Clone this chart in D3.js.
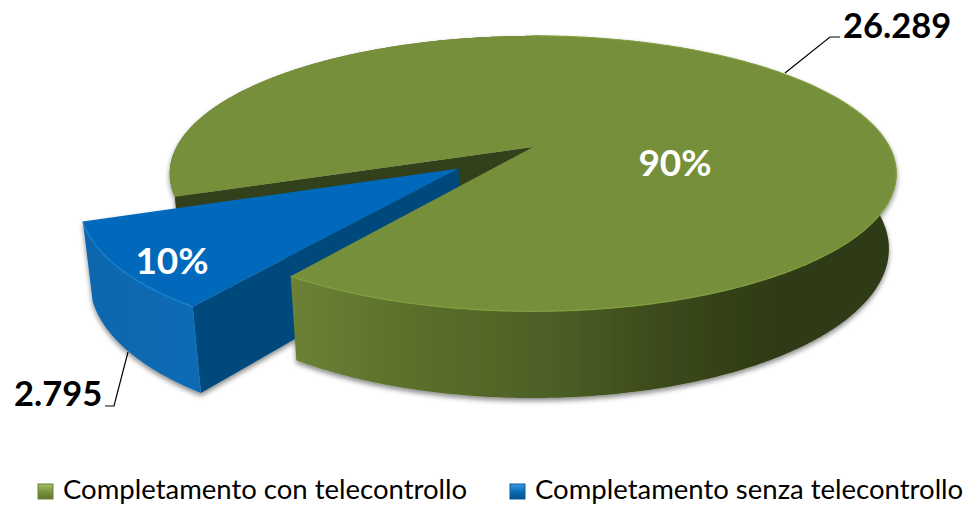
<!DOCTYPE html>
<html>
<head>
<meta charset="utf-8">
<script src="https://cdn.jsdelivr.net/npm/d3@7"></script>
<style>
  html, body { margin: 0; padding: 0; background: #fff; }
  svg { display: block; font-family: Lato, "Open Sans", sans-serif; }
  .value-label { font-weight: 700; font-size: 34.5px; fill: #000; }
  .pct-label { font-weight: 700; font-size: 37px; fill: #fff; text-anchor: middle; }
  .legend-label { font-size: 27.5px; fill: #000; }
  .leader { fill: none; stroke: #000; stroke-width: 1.2; }
</style>
</head>
<body>
<div id="chart"></div>
<script>
const categories = ["Completamento con telecontrollo", "Completamento senza telecontrollo"];
const values = [26289, 2795];
const valueLabels = ["26.289", "2.795"];
const percentLabels = ["90%", "10%"];

const width = 966, height = 505;

// Tilted disc: plane coords run -1..1, k is the perspective, depth the wall height
const cfg = {
  cx: 533, cy: 147, rx: 356.5, ry: 132.6, k: 0.193,
  depth: 75, m: 0.02,
  firstAngle: 249.5 * Math.PI / 180,
  explode: 0.256
};

const svg = d3.select("#chart").append("svg")
    .attr("width", width)
    .attr("height", height);

const defs = svg.append("defs");

function addGradient(id, stops, vertical) {
  const g = defs.append("linearGradient").attr("id", id)
      .attr("x1", 0).attr("y1", 0)
      .attr("x2", vertical ? 0 : 1).attr("y2", vertical ? 1 : 0);
  stops.forEach(s => g.append("stop").attr("offset", s[0]).attr("stop-color", s[1]));
}

addGradient("greenWall", [[0, "#6c8136"], [0.18, "#5c712c"], [0.41, "#4e6126"], [0.64, "#39471a"], [0.8, "#2f3b15"], [1, "#2f3b15"]]);
addGradient("blueWall", [[0, "#0866ad"], [0.6, "#0969b2"], [1, "#0a6bb5"]]);
addGradient("greenKey", [[0, "#a6c067"], [0.5, "#7a9440"], [1, "#5f7730"]], true);
addGradient("blueKey", [[0, "#3d9be0"], [0.5, "#0a6cb8"], [1, "#05508c"]], true);

const shadow = defs.append("filter").attr("id", "soft")
    .attr("x", "-5%").attr("y", "-5%").attr("width", "110%").attr("height", "115%");
shadow.append("feDropShadow")
    .attr("dx", 0).attr("dy", 3).attr("stdDeviation", 2.5)
    .attr("flood-color", "#000").attr("flood-opacity", 0.45);

// plane point + wall level z (0 top, 1 bottom) to screen
function project(X, Y, z) {
  const w = 1 - cfg.k * Y + cfg.m * z;
  return [cfg.cx + cfg.rx * X / w, cfg.cy + (cfg.ry * Y + cfg.depth * z) / w];
}

const pie = d3.pie().sort(null).value(d => d)
    .startAngle(cfg.firstAngle)
    .endAngle(cfg.firstAngle + 2 * Math.PI);
const slices = pie(values);

const line = d3.line();

function offsetOf(slice, amount) {
  const mid = (slice.startAngle + slice.endAngle) / 2;
  return [Math.sin(mid) * amount, -Math.cos(mid) * amount];
}

function rimPoints(a0, a1, off, z) {
  const n = Math.max(2, Math.ceil((a1 - a0) / 0.01));
  return d3.range(n + 1).map(i => {
    const a = a0 + (a1 - a0) * i / n;
    return project(off[0] + Math.sin(a), off[1] - Math.cos(a), z);
  });
}

function topPath(slice, off) {
  const apex = project(off[0], off[1], 0);
  return line([apex, ...rimPoints(slice.startAngle, slice.endAngle, off, 0)]) + "Z";
}

function wallPath(a0, a1, off) {
  return line([...rimPoints(a0, a1, off, 0), ...rimPoints(a0, a1, off, 1).reverse()]) + "Z";
}

function cutPath(a, off) {
  return line([
    project(off[0], off[1], 0),
    project(off[0] + Math.sin(a), off[1] - Math.cos(a), 0),
    project(off[0] + Math.sin(a), off[1] - Math.cos(a), 1),
    project(off[0], off[1], 1)
  ]) + "Z";
}

const green = slices[0], blue = slices[1];
const noOff = [0, 0], blueOff = offsetOf(blue, cfg.explode);

const pieGroup = svg.append("g").attr("filter", "url(#soft)");

// back part of green, seen through the gap
pieGroup.append("path").attr("d", wallPath(green.startAngle, 2 * Math.PI, noOff)).attr("fill", "#5f7430");
pieGroup.append("path").attr("d", cutPath(green.startAngle, noOff)).attr("fill", "#33401a");

// exploded blue slice
pieGroup.append("path").attr("d", cutPath(blue.startAngle, blueOff)).attr("fill", "#004a7c");
pieGroup.append("path").attr("d", wallPath(blue.startAngle, blue.endAngle, blueOff)).attr("fill", "url(#blueWall)");
pieGroup.append("path").attr("d", topPath(blue, blueOff)).attr("fill", "#0069bb");
pieGroup.append("path").attr("d", line(rimPoints(blue.startAngle, blue.endAngle, blueOff, 0)))
    .attr("fill", "none").attr("stroke", "#1b7fcd").attr("stroke-width", 1.5);

// front of green goes over the blue side wall
pieGroup.append("path").attr("d", wallPath(2 * Math.PI, green.endAngle, noOff)).attr("fill", "url(#greenWall)");
pieGroup.append("path").attr("d", topPath(green, noOff)).attr("fill", "#768f3b");
pieGroup.append("path").attr("d", line(rimPoints(2 * Math.PI, green.endAngle, noOff, 0)))
    .attr("fill", "none").attr("stroke", "#83a040").attr("stroke-width", 1.2);

// leader lines
svg.append("path").attr("class", "leader").attr("d", line([[785, 73], [830, 37], [840, 37]]));
svg.append("path").attr("class", "leader").attr("d", line([[128, 352], [114, 406], [105, 406]]));

// labels
svg.append("text").attr("class", "value-label").attr("x", 843).attr("y", 38).text(valueLabels[0]);
svg.append("text").attr("class", "value-label").attr("x", 14).attr("y", 406).text(valueLabels[1]);
svg.append("text").attr("class", "pct-label").attr("x", 675).attr("y", 176).text(percentLabels[0]);
svg.append("text").attr("class", "pct-label").attr("x", 172).attr("y", 274).text(percentLabels[1]);

// legend
const legendX = d3.scalePoint().domain(categories).range([38, 510]);
const legend = svg.selectAll(".legend-item").data(categories).join("g")
    .attr("class", "legend-item")
    .attr("transform", d => "translate(" + legendX(d) + ",484)");

legend.append("rect")
    .attr("width", 15).attr("height", 15)
    .attr("fill", (d, i) => i === 0 ? "url(#greenKey)" : "url(#blueKey)")
    .attr("stroke", (d, i) => i === 0 ? "#6a8236" : "#0a5c9c")
    .attr("stroke-width", 1);

legend.append("text")
    .attr("class", "legend-label")
    .attr("x", 25).attr("y", 15)
    .text(d => d);
</script>
</body>
</html>
